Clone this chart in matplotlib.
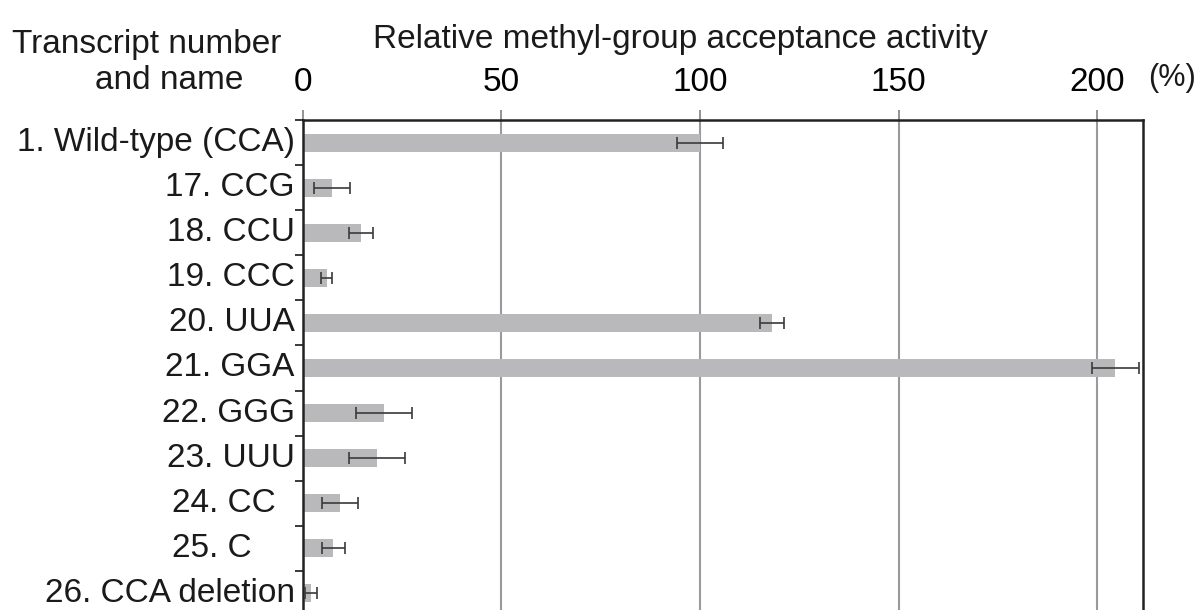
import numpy as np
import matplotlib
matplotlib.use("Agg")
import matplotlib.pyplot as plt
import matplotlib.transforms as mtransforms

# data
names = ["1. Wild-type (CCA)", "17. CCG", "18. CCU", "19. CCC", "20. UUA",
         "21. GGA", "22. GGG", "23. UUU", "24. CC", "25. C", "26. CCA deletion"]
activity = [100.0, 7.3, 14.7, 6.0, 118.2, 204.6, 20.4, 18.7, 9.3, 7.7, 2.2]
errors = [5.8, 4.5, 3.0, 1.5, 3.0, 5.8, 7.1, 7.1, 4.5, 2.9, 1.5]
x_ticks = [0, 50, 100, 150, 200]

# these two labels sit left-aligned in the original figure
left_aligned = {"24. CC", "25. C"}

plt.rcParams['font.family'] = ['Liberation Sans', 'DejaVu Sans']
fs = 24

fig = plt.figure(figsize=(11.98, 6.10), dpi=100)
# axes box runs past the bottom edge of the figure, as in the reference
ax = fig.add_axes([302.7/1198, 1 - 616/610, 840.6/1198, 496/610])

y = np.arange(len(names))
ax.barh(y, activity, height=0.4, color='#b9b9bb', zorder=2)
ax.errorbar(activity, y, xerr=errors, fmt='none', ecolor='#3a3a3a',
            elinewidth=1.2, capsize=4, capthick=1.2, zorder=3)

ax.set_xlim(0, 211.6)
ax.set_ylim(len(names) - 0.5, -0.5)

ax.xaxis.tick_top()
ax.set_xticks(x_ticks)
ax.set_xticklabels([str(t) for t in x_ticks], fontsize=fs)
ax.tick_params(axis='x', direction='out', length=7.5, width=1.3,
               color='#8a8a8a', pad=8.5)
ax.grid(axis='x', color='#9a9a9a', lw=1.5, zorder=1)

ax.set_yticks(y)
ax.set_yticklabels([])
ax.tick_params(axis='y', which='major', length=0)
ax.set_yticks(np.arange(len(names) + 1) - 0.5, minor=True)
ax.tick_params(axis='y', which='minor', direction='out', length=5.5,
               width=1.3, color='#2a2a2a')

for side in ['top', 'left', 'right']:
    ax.spines[side].set_linewidth(1.8)
    ax.spines[side].set_color('#222222')
ax.spines['bottom'].set_visible(False)

trans = mtransforms.blended_transform_factory(ax.transAxes, ax.transData)
for yi, name in zip(y, names):
    if name in left_aligned:
        ax.text(-0.1555, yi, name, transform=trans, ha='left', va='center',
                fontsize=fs, color='#1a1a1a')
    else:
        ax.text(-0.0095, yi, name, transform=trans, ha='right', va='center',
                fontsize=fs, color='#1a1a1a')

fig.text(373/1198, 1 - 48/610, "Relative methyl-group acceptance activity",
         fontsize=fs, ha='left', va='baseline', color='#1a1a1a')
fig.text(12/1198, 1 - 53/610, "Transcript number", fontsize=fs,
         ha='left', va='baseline', color='#1a1a1a')
fig.text(95/1198, 1 - 89/610, "and name", fontsize=fs,
         ha='left', va='baseline', color='#1a1a1a')
fig.text(1148/1198, 1 - 86/610, "(%)", fontsize=fs - 2,
         ha='left', va='baseline', color='#1a1a1a')

fig.savefig("out.png", dpi=100)
